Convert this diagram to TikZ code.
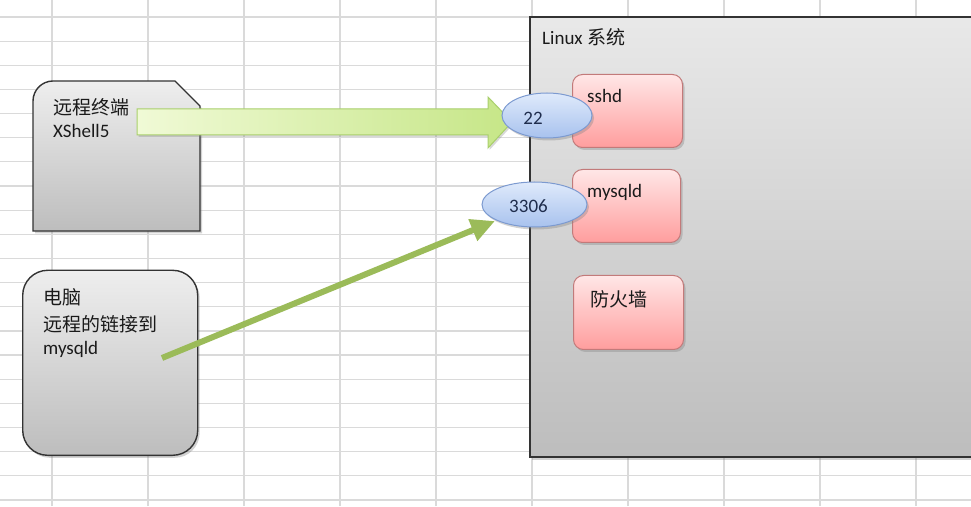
\documentclass[tikz,border=0pt]{standalone}
\usepackage{fontspec}
\setmainfont{Carlito}
\newfontfamily\cjk{Noto Sans CJK SC}
\usetikzlibrary{shapes.geometric,shadows,arrows.meta,calc}
\definecolor{gridc}{HTML}{DADADA}
\definecolor{boxtop}{HTML}{EEEEEE}
\definecolor{boxbot}{HTML}{BDBDBD}
\definecolor{pinktop}{HTML}{FFE6E6}
\definecolor{pinkbot}{HTML}{FF9E9E}
\definecolor{pinkline}{HTML}{C27A7A}
\definecolor{bluetop}{HTML}{DFEAFB}
\definecolor{bluebot}{HTML}{A8C2EE}
\definecolor{blueline}{HTML}{7C9AD0}
\definecolor{arrowleft}{HTML}{F0FAD6}
\definecolor{arrowright}{HTML}{C6E687}
\definecolor{arrowline}{HTML}{A9CF6C}
\definecolor{thingreen}{HTML}{9BBB59}
\definecolor{navy}{HTML}{1F2D4D}
\definecolor{txtc}{HTML}{1A1A1A}
\tikzset{
  gridline/.style={draw=gridc, line width=1.2pt},
  shade/.style={drop shadow={opacity=0.35, shadow xshift=2pt, shadow yshift=-2.5pt}},
  graybox/.style={draw=black!80, line width=1.4pt, top color=boxtop, bottom color=boxbot, shade},
  linuxbox/.style={draw=black!80, line width=1.6pt, top color=boxtop!95!gray, bottom color=boxbot, shade},
  pinkbox/.style={rectangle, rounded corners=10pt, draw=pinkline, line width=1pt, top color=pinktop, bottom color=pinkbot, shade},
  port/.style={ellipse, draw=blueline, line width=1pt, top color=bluetop, bottom color=bluebot, shade},
  bigarrow/.style={draw=arrowline, line width=1pt, left color=arrowleft, right color=arrowright, drop shadow={opacity=0.3, shadow xshift=1.5pt, shadow yshift=-2pt}},
  thinarrow/.style={draw=thingreen, line width=6pt, -{Triangle[length=24pt,width=22pt]}},
  txt/.style={inner sep=0pt, text=txtc, font=\fontsize{19}{25}\selectfont},
  porttxt/.style={inner sep=0pt, text=navy, font=\fontsize{19}{25}\selectfont},
}
\begin{document}
\begin{tikzpicture}[x=1pt,y=1pt]
\useasboundingbox (0,0) rectangle (971,506);
\fill[white] (0,0) rectangle (971,506);
% spreadsheet grid
\foreach \x in {52,148,...,916} \draw[gridline] (\x,0) -- (\x,506);
\foreach \k in {0,...,20} \draw[gridline] (0,{489-24.15*\k}) -- (971,{489-24.15*\k});

% Linux system box
\node[linuxbox, minimum width=446, minimum height=440, anchor=south west] (linux) at (529,48) {};
\node[txt, anchor=base west] (linuxlbl) at (542,461) {Linux {\cjk 系统}};

% services
\node[pinkbox, minimum width=110, minimum height=73, anchor=south west] (sshd) at (572,358) {};
\node[txt, anchor=base west] (sshdlbl) at (587,403) {sshd};
\node[pinkbox, minimum width=108, minimum height=73, anchor=south west] (mysqld) at (572,263) {};
\node[txt, anchor=base west] (mysqldlbl) at (587,308) {mysqld};
\node[pinkbox, minimum width=110, minimum height=74, anchor=south west] (fw) at (573,156) {};
\node[txt, anchor=base west] (fwlbl) at (590,199) {\cjk 防火墙};

% remote terminal box
\path[graybox] (33,275) -- (33,405) .. controls (33,416) and (42,425) .. (53,425) -- (175,425) -- (200,400) -- (200,275) -- cycle;
\node[txt, anchor=base west] (term1) at (53,391) {\cjk 远程终端};
\node[txt, anchor=base west] (term2) at (53,368) {XShell5};

% PC box
\node[graybox, rectangle, rounded corners=25pt, minimum width=175, minimum height=185, anchor=south west] (pc) at (22,50) {};
\node[txt, anchor=base west] (pc1) at (43,201) {\cjk 电脑};
\node[txt, anchor=base west] (pc2) at (43,174) {\cjk 远程的链接到};
\node[txt, anchor=base west] (pc3) at (43,151) {mysqld};

% big block arrow terminal -> port 22
\coordinate (aStart) at (137,384);
\coordinate (aTip) at (512,384);
\path[bigarrow] ($(aStart)+(0,13)$) -- ($(aTip)+(-24,13)$) -- ($(aTip)+(-24,25)$) -- (aTip)
  -- ($(aTip)+(-24,-26)$) -- ($(aTip)+(-24,-13)$) -- ($(aStart)+(0,-13)$) -- cycle;

% thin arrow pc -> port 3306
\coordinate (bStart) at (162,148);
\coordinate (bTip) at (495,285);
\draw[thinarrow] (bStart) -- (bTip);

% ports
\node[port, minimum width=90, minimum height=45] (p22) at (547,390.5) {};
\node[porttxt, anchor=base] (p22lbl) at (533,381) {22};
\node[port, minimum width=105, minimum height=45] (p3306) at (534.5,301.5) {};
\node[porttxt, anchor=base] (p3306lbl) at (528.5,293) {3306};
\end{tikzpicture}
\end{document}
